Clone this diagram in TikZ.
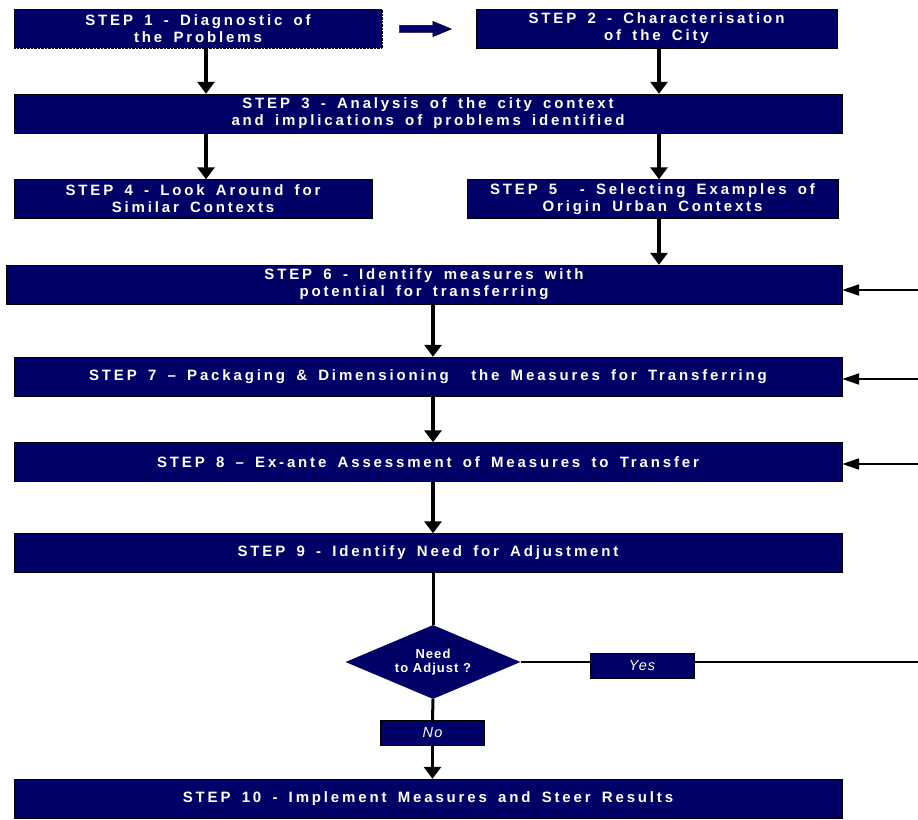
\documentclass[tikz,border=0pt]{standalone}
\usepackage{fontspec}
\setmainfont{Liberation Sans}
\newfontfamily\stepfont[LetterSpace=19,WordSpace=1.6]{Liberation Sans}
\newfontfamily\answerfont[LetterSpace=8]{Liberation Sans}
\usepackage{xcolor}
\usetikzlibrary{arrows.meta,shapes.geometric,shapes.arrows}
\definecolor{stepnavy}{RGB}{0,0,102}

\begin{document}
\begin{tikzpicture}[x=1pt,y=-1pt,
    stepbox/.style={draw=black,fill=stepnavy,text=white,align=center,inner sep=0pt,
        minimum height=39pt,font=\stepfont\bfseries\fontsize{15}{17}\selectfont},
    answer/.style={draw=black,fill=stepnavy,text=white,inner sep=0pt,
        minimum width=104pt,minimum height=25pt,font=\answerfont\itshape\fontsize{14.5}{16}\selectfont},
    flow/.style={line width=3.2pt,-{Triangle[width=17pt,length=12pt]}},
    feed/.style={line width=2pt,-{Triangle[width=11pt,length=17pt]}}]
        \useasboundingbox (0,0) rectangle (918,819);

        \node[stepbox,minimum width=368pt,densely dotted] (s1) at (198,28.5) {STEP 1 - Diagnostic of\\the Problems};
        \node[stepbox,minimum width=361pt] (s2) at (656.5,28.5) {STEP 2 - Characterisation\\of the City};
        \node[stepbox,minimum width=828pt] (s3) at (428,113.5) {STEP 3 - Analysis of the city context\\and implications of problems identified};
        \node[stepbox,minimum width=358pt] (s4) at (193,199) {STEP 4 - Look Around for\\Similar Contexts};
        \node[stepbox,minimum width=371pt] (s5) at (652.5,199) {STEP 5 \ - Selecting Examples of\\Origin Urban Contexts};
        \node[stepbox,minimum width=836pt] (s6) at (424,284.5) {STEP 6 - Identify measures with\\potential for transferring};
        \node[stepbox,minimum width=828pt] (s7) at (428,376.5) {STEP 7 – Packaging \& Dimensioning \ the Measures for Transferring};
        \node[stepbox,minimum width=828pt] (s8) at (428,462) {STEP 8 – Ex-ante Assessment of Measures to Transfer};
        \node[stepbox,minimum width=828pt] (s9) at (428,553) {STEP 9 - Identify Need for Adjustment};
        \node[stepbox,minimum width=828pt] (s10) at (428,798.5) {STEP 10 - Implement Measures and Steer Results};

        \node[single arrow,fill=stepnavy,draw=black,line width=0.4pt,inner sep=3.5pt,
            single arrow head extend=4pt,single arrow tip angle=45,minimum height=52pt] (go) at (421,29) {};

        \node[diamond,aspect=2.36,fill=stepnavy,text=white,inner sep=0pt,minimum width=175pt,minimum height=74pt,
            align=center,font=\answerfont\bfseries\fontsize{13}{14}\selectfont] (adj) at (433,662) {Need\\to Adjust ?};

        \coordinate (c1) at (206,0);
        \coordinate (c2) at (659,0);
        \coordinate (c3) at (433,0);
        \coordinate (r6) at (918,290);
        \coordinate (r7) at (918,379);
        \coordinate (r8) at (918,464);
        \coordinate (re) at (918,662);

        % the yes line runs behind its box
        \draw[line width=2pt] (adj.east) -- (re);
        \node[answer] (yes) at (642,665.5) {Yes};
        \node[answer] (no) at (432.5,732.5) {No};

        \draw[flow] (c1 |- s1.south) -- (c1 |- s3.north);
        \draw[flow] (c2 |- s2.south) -- (c2 |- s3.north);
        \draw[flow] (c1 |- s3.south) -- (c1 |- s4.north);
        \draw[flow] (c2 |- s3.south) -- (c2 |- s5.north);
        \draw[flow] (c2 |- s5.south) -- (c2 |- s6.north);
        \draw[flow] (c3 |- s6.south) -- (c3 |- s7.north);
        \draw[flow] (c3 |- s7.south) -- (c3 |- s8.north);
        \draw[flow] (c3 |- s8.south) -- (c3 |- s9.north);

        \draw[feed] (r6) -- (r6 -| s6.east);
        \draw[feed] (r7) -- (r7 -| s7.east);
        \draw[feed] (r8) -- (r8 -| s8.east);

        \draw[line width=3pt] (c3 |- s9.south) -- (adj.north);
        \draw[line width=3pt] (adj.south) -- (no.north);
        \draw[flow] (no.south) -- (no.south |- s10.north);
    \end{tikzpicture}
\end{document}
